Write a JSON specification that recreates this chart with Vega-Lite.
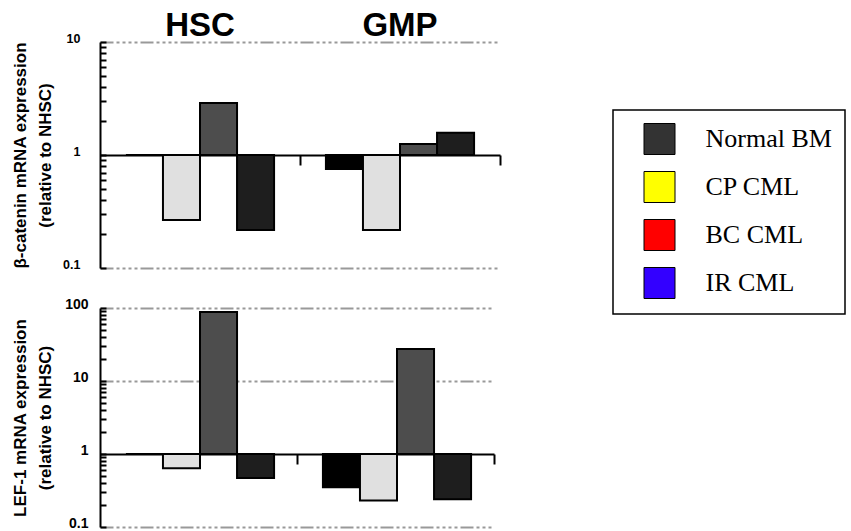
{
  "$schema": "https://vega.github.io/schema/vega-lite/v6.json",
  "background": "white",
  "padding": {"left": 10, "top": 9, "right": 0, "bottom": 0},
  "bounds": "flush",
  "spacing": 40,
  "datasets": {
    "beta": [
      {"group": "HSC", "series": "Normal BM", "value": 1},
      {"group": "HSC", "series": "CP CML", "value": 0.266},
      {"group": "HSC", "series": "BC CML", "value": 2.88},
      {"group": "HSC", "series": "IR CML", "value": 0.217},
      {"group": "GMP", "series": "Normal BM", "value": 0.75},
      {"group": "GMP", "series": "CP CML", "value": 0.217},
      {"group": "GMP", "series": "BC CML", "value": 1.25},
      {"group": "GMP", "series": "IR CML", "value": 1.57}
    ],
    "lef": [
      {"group": "HSC", "series": "Normal BM", "value": 1},
      {"group": "HSC", "series": "CP CML", "value": 0.64},
      {"group": "HSC", "series": "BC CML", "value": 88},
      {"group": "HSC", "series": "IR CML", "value": 0.47},
      {"group": "GMP", "series": "Normal BM", "value": 0.35},
      {"group": "GMP", "series": "CP CML", "value": 0.23},
      {"group": "GMP", "series": "BC CML", "value": 27.5},
      {"group": "GMP", "series": "IR CML", "value": 0.24}
    ]
  },
  "config": {
    "view": {"stroke": null},
    "axis": {
      "labelFont": "Liberation Sans",
      "labelFontWeight": "bold",
      "labelFontSize": 12,
      "labelColor": "black",
      "titleFont": "Liberation Sans",
      "titleColor": "black",
      "domainColor": "black",
      "tickColor": "black"
    },
    "legend": {"strokeWidth": 1.5}
  },
  "resolve": {"scale": {"color": "independent"}, "legend": {"color": "independent"}},
  "vconcat": [
    {
      "width": 400,
      "height": 226,
      "data": {"name": "beta"},
      "layer": [
        {
          "mark": {"type": "bar", "stroke": "black", "strokeWidth": 2},
          "encoding": {
            "x": {
              "field": "group", "type": "nominal", "sort": ["HSC", "GMP"],
              "scale": {"paddingInner": 0, "paddingOuter": 0},
              "axis": {"orient": "top", "title": null, "domain": false, "ticks": false, "tickSize": 0, "grid": false,
                       "labelFontSize": 33, "labelFont": "Liberation Sans", "labelFontWeight": "bold",
                       "labelBaseline": "alphabetic", "labelPadding": 7, "labelAngle": 0}
            },
            "xOffset": {
              "field": "series", "type": "nominal", "sort": ["Normal BM", "CP CML", "BC CML", "IR CML"],
              "scale": {"paddingInner": 0, "paddingOuter": 0.7}
            },
            "y": {
              "field": "value", "type": "quantitative",
              "scale": {"type": "log", "domain": [0.1, 10], "nice": false},
              "axis": {
                "title": ["β-catenin mRNA expression", "(relative to NHSC)"],
                "titleFontSize": 17, "titleFontWeight": "bold", "titleLineHeight": 25, "titleX": -71,
                "values": [0.1, 0.2, 0.3, 0.4, 0.5, 0.6, 0.7, 0.8, 0.9, 1, 2, 3, 4, 5, 6, 7, 8, 9, 10],
                "format": "~g",
                "labelExpr": "datum.value == 0.1 || datum.value == 1 || datum.value == 10 ? datum.label : ''",
                "labelOverlap": false, "labelBaseline": "alphabetic", "labelPadding": 26, "labelFontSize": 12.5,
                "domain": true, "ticks": true,
                "tickSize": -6, "tickWidth": 2, "domainWidth": 2,
                "grid": true, "gridColor": "#999999", "gridWidth": 2,
                "gridDash": [13, 3, 3, 3, 3, 3, 3, 3, 3, 3],
                "gridOpacity": {"condition": {"test": "datum.value == 0.1 || datum.value == 10", "value": 1}, "value": 0}
              }
            },
            "y2": {"datum": 1},
            "fill": {
              "field": "series", "type": "nominal",
              "scale": {"domain": ["Normal BM", "CP CML", "BC CML", "IR CML"], "range": ["#000000", "#e0e0e0", "#4d4d4d", "#1e1e1e"]},
              "legend": null
            }
          }
        },
        {
          "mark": {"type": "text", "text": ""},
          "encoding": {
            "x": {
              "field": "group", "type": "nominal", "sort": ["HSC", "GMP"],
              "scale": {"paddingInner": 0, "paddingOuter": 0},
              "axis": {"orient": "bottom", "offset": -113, "title": null, "labels": false, "grid": false,
                       "domain": true, "domainWidth": 2, "ticks": true, "tickSize": 10, "tickWidth": 2, "bandPosition": 1}
            },
            "xOffset": {
              "field": "series", "type": "nominal", "sort": ["Normal BM", "CP CML", "BC CML", "IR CML"],
              "scale": {"paddingInner": 0, "paddingOuter": 0.7}
            },
            "y": {
              "field": "value", "type": "quantitative",
              "scale": {"type": "log", "domain": [0.1, 10], "nice": false},
              "axis": {
                "title": ["β-catenin mRNA expression", "(relative to NHSC)"],
                "titleFontSize": 17, "titleFontWeight": "bold", "titleLineHeight": 25, "titleX": -71,
                "values": [0.1, 0.2, 0.3, 0.4, 0.5, 0.6, 0.7, 0.8, 0.9, 1, 2, 3, 4, 5, 6, 7, 8, 9, 10],
                "format": "~g",
                "labelExpr": "datum.value == 0.1 || datum.value == 1 || datum.value == 10 ? datum.label : ''",
                "labelOverlap": false, "labelBaseline": "alphabetic", "labelPadding": 26, "labelFontSize": 12.5,
                "domain": true, "ticks": true,
                "tickSize": -6, "tickWidth": 2, "domainWidth": 2,
                "grid": true, "gridColor": "#999999", "gridWidth": 2,
                "gridDash": [13, 3, 3, 3, 3, 3, 3, 3, 3, 3],
                "gridOpacity": {"condition": {"test": "datum.value == 0.1 || datum.value == 10", "value": 1}, "value": 0}
              }
            },
            "color": {
              "field": "series", "type": "nominal",
              "scale": {"domain": ["Normal BM", "CP CML", "BC CML", "IR CML"], "range": ["#333333", "#ffff00", "#ff0000", "#3300ff"]},
              "legend": {
                "orient": "none", "legendX": 513, "legendY": 68, "title": null,
                "symbolType": "square", "symbolSize": 961, "symbolOffset": 17.5,
                "symbolStrokeColor": "black", "symbolStrokeWidth": 1, "symbolOpacity": 1,
                "labelFont": "Liberation Serif", "labelFontSize": 26, "labelColor": "black",
                "labelOffset": 30, "rowPadding": 12, "padding": 13, "labelLimit": 400,
                "strokeColor": "black", "fillColor": "white"
              }
            }
          }
        }
      ],
      "resolve": {"axis": {"x": "independent"}}
    },
    {
      "width": 394,
      "height": 219,
      "data": {"name": "lef"},
      "mark": {"type": "bar", "stroke": "black", "strokeWidth": 2},
      "encoding": {
        "x": {
          "field": "group", "type": "nominal", "sort": ["HSC", "GMP"],
          "scale": {"paddingInner": 0, "paddingOuter": 0},
          "axis": {"orient": "bottom", "offset": -73, "title": null, "labels": false, "grid": false,
                   "domain": true, "domainWidth": 2, "ticks": true, "tickSize": 10, "tickWidth": 2, "bandPosition": 1}
        },
        "xOffset": {
          "field": "series", "type": "nominal", "sort": ["Normal BM", "CP CML", "BC CML", "IR CML"],
          "scale": {"paddingInner": 0, "paddingOuter": 0.7}
        },
        "y": {
          "field": "value", "type": "quantitative",
          "scale": {"type": "log", "domain": [0.1, 100], "nice": false},
          "axis": {
            "title": ["LEF-1 mRNA expression", "(relative to NHSC)"],
            "titleFontSize": 17, "titleFontWeight": "bold", "titleLineHeight": 25, "titleX": -71,
            "values": [0.1, 0.2, 0.3, 0.4, 0.5, 0.6, 0.7, 0.8, 0.9, 1, 2, 3, 4, 5, 6, 7, 8, 9, 10, 20, 30, 40, 50, 60, 70, 80, 90, 100],
            "format": "~g",
            "labelExpr": "datum.value == 0.1 || datum.value == 1 || datum.value == 10 || datum.value == 100 ? datum.label : ''",
            "labelOverlap": false, "labelBaseline": "alphabetic", "labelPadding": 18, "labelFontSize": 14,
            "domain": true, "ticks": true,
            "tickSize": -6, "tickWidth": 2, "domainWidth": 2,
            "grid": true, "gridColor": "#999999", "gridWidth": 2,
            "gridDash": [13, 3, 3, 3, 3, 3, 3, 3, 3, 3],
            "gridOpacity": {"condition": {"test": "datum.value == 0.1 || datum.value == 10 || datum.value == 100", "value": 1}, "value": 0}
          }
        },
        "y2": {"datum": 1},
        "fill": {
          "field": "series", "type": "nominal",
          "scale": {"domain": ["Normal BM", "CP CML", "BC CML", "IR CML"], "range": ["#000000", "#e0e0e0", "#4d4d4d", "#1e1e1e"]},
          "legend": null
        }
      }
    }
  ]
}
